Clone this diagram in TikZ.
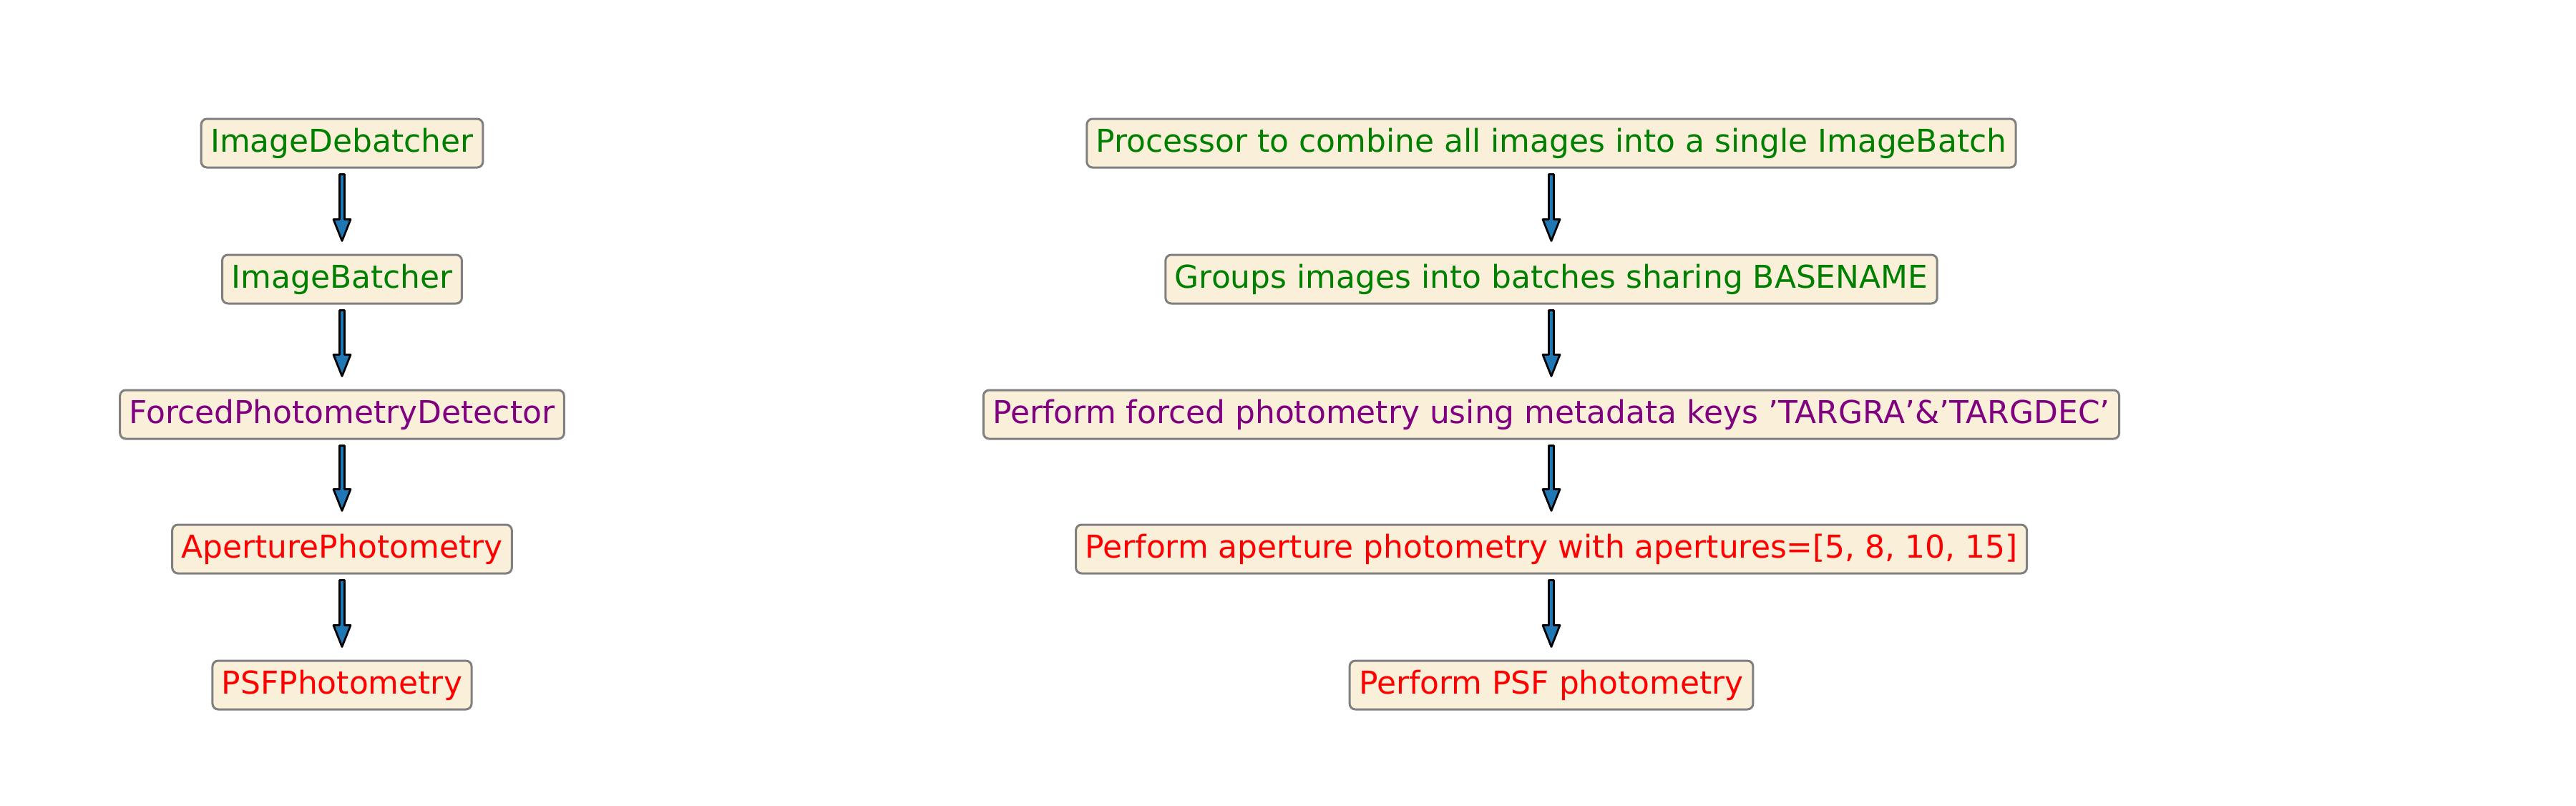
\documentclass[tikz,border=0pt]{standalone}
\usepackage{fontspec}
\setmainfont{DejaVu Sans}
\usetikzlibrary{calc}
\definecolor{boxfill}{HTML}{FAEFD9}
\definecolor{boxdraw}{HTML}{808080}
\definecolor{arrblue}{HTML}{1F77B4}
\definecolor{cgreen}{HTML}{008000}
\definecolor{cpurple}{HTML}{800080}
\definecolor{cred}{HTML}{FF0000}
\tikzset{
  box/.style={draw=boxdraw, fill=boxfill, line width=0.03cm, rounded corners=0.08cm,
    inner xsep=0.13cm, inner ysep=0cm, minimum height=0.68cm,
    font=\fontsize{12.5}{15}\selectfont},
  arr/.style={draw=black, fill=arrblue, line width=0.028cm, line join=round}
}
\newcommand\fatarrow[2]{%
  \draw[arr] ($(#1.south)+(-0.035,-0.08)$) -- ($(#2.north)+(-0.035,0.48)$)
    -- ($(#2.north)+(-0.12,0.48)$) -- ($(#2.north)+(0,0.18)$)
    -- ($(#2.north)+(0.12,0.48)$) -- ($(#2.north)+(0.035,0.48)$)
    -- ($(#1.south)+(0.035,-0.08)$) -- cycle;}
\begin{document}
\begin{tikzpicture}
\useasboundingbox (0,0) rectangle (36,-11.25);
\node[box,text=cgreen] (l1) at (4.78,-2.00) {ImageDebatcher};
\node[box,text=cgreen] (l2) at (4.78,-3.90) {ImageBatcher};
\node[box,text=cpurple] (l3) at (4.78,-5.79) {ForcedPhotometryDetector};
\node[box,text=cred] (l4) at (4.78,-7.67) {AperturePhotometry};
\node[box,text=cred] (l5) at (4.78,-9.57) {PSFPhotometry};
\node[box,text=cgreen] (r1) at (21.68,-2.00) {Processor to combine all images into a single ImageBatch};
\node[box,text=cgreen] (r2) at (21.68,-3.90) {Groups images into batches sharing BASENAME};
\node[box,text=cpurple] (r3) at (21.68,-5.79) {Perform forced photometry using metadata keys 'TARGRA'\&'TARGDEC'};
\node[box,text=cred] (r4) at (21.68,-7.67) {Perform aperture photometry with apertures=[5, 8, 10, 15]};
\node[box,text=cred] (r5) at (21.68,-9.57) {Perform PSF photometry};
\fatarrow{l1}{l2}\fatarrow{l2}{l3}\fatarrow{l3}{l4}\fatarrow{l4}{l5}
\fatarrow{r1}{r2}\fatarrow{r2}{r3}\fatarrow{r3}{r4}\fatarrow{r4}{r5}
\end{tikzpicture}
\end{document}
